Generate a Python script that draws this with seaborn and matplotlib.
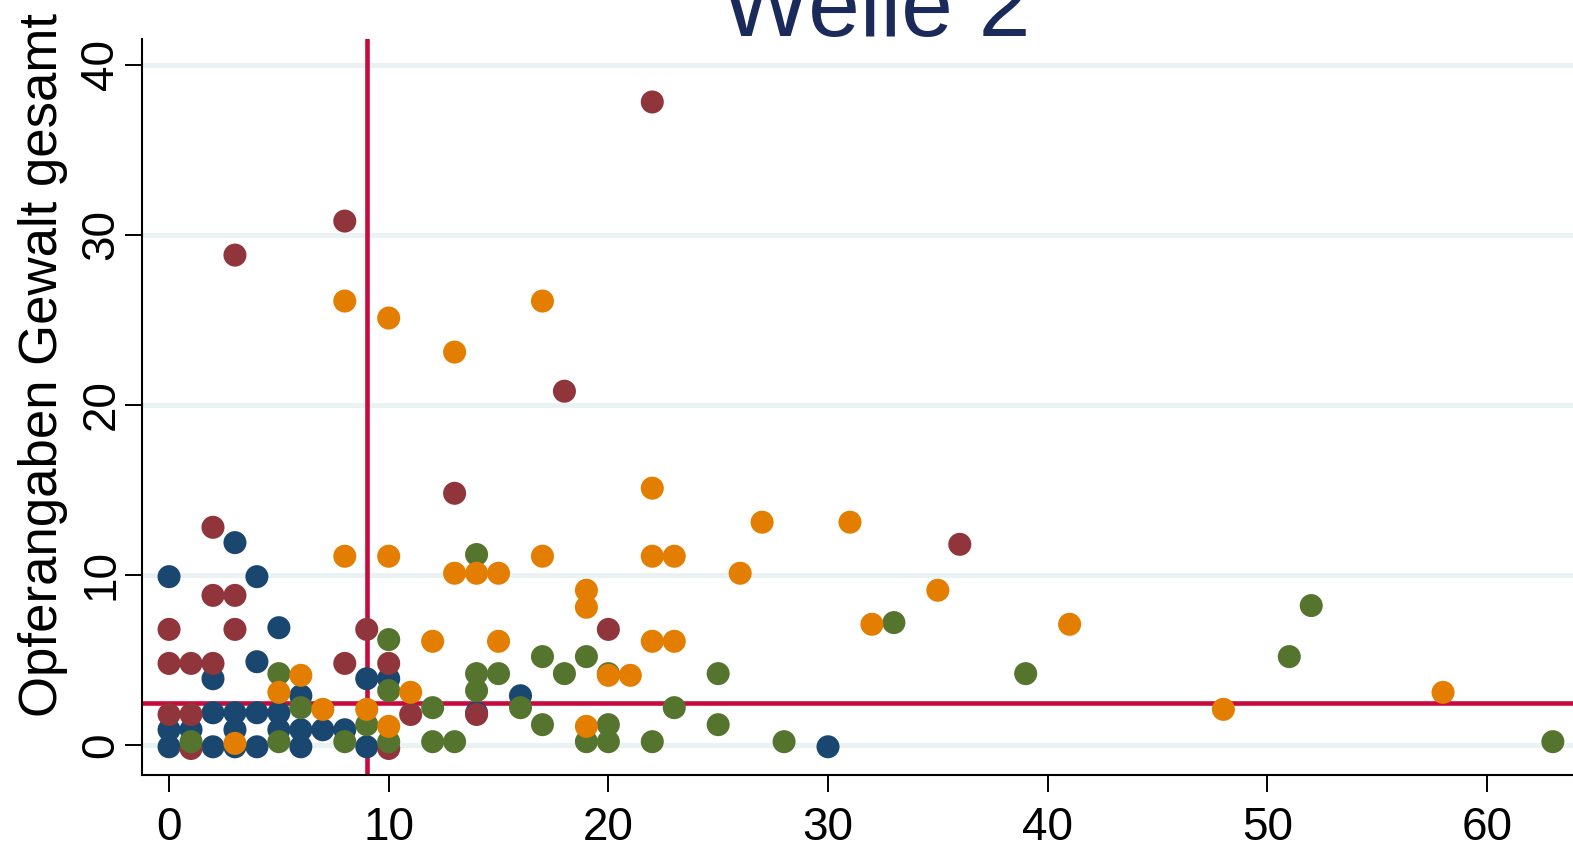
import numpy as np
import pandas as pd
import matplotlib
matplotlib.use('Agg')
import matplotlib.pyplot as plt
import seaborn as sns

# values (x = integer score, y = victim reports)
navy_x = [0, 0, 0, 1, 2, 2, 2, 3, 3, 3, 3, 4, 4, 4, 4, 5, 5, 5,
          6, 6, 6, 7, 8, 9, 9, 10, 14, 16, 30]
navy_y = [9.9, 0.9, -0.1, 0.9, 3.9, 1.9, -0.1, 11.9, 1.9, 0.9, -0.1,
          9.9, 4.9, 1.9, -0.1, 6.9, 1.9, 0.9, 2.9, 0.9, -0.1, 0.9, 0.9,
          3.9, -0.1, 3.9, 1.9, 2.9, -0.1]

maroon_x = [0, 0, 0, 1, 1, 1, 2, 2, 2, 3, 3, 3, 8, 8, 9, 10, 10, 11,
            13, 14, 18, 20, 22, 36]
maroon_y = [6.8, 4.8, 1.8, 4.8, 1.8, -0.2, 12.8, 8.8, 4.8, 28.8, 8.8,
            6.8, 30.8, 4.8, 6.8, 4.8, -0.2, 1.8, 14.8, 1.8, 20.8, 6.8,
            37.8, 11.8]

green_x = [1, 5, 5, 6, 8, 9, 10, 10, 10, 12, 12, 13, 14, 14, 14, 15, 16,
           17, 17, 18, 19, 19, 20, 20, 20, 22, 23, 25, 25, 28, 33, 39,
           51, 52, 63]
green_y = [0.2, 4.2, 0.2, 2.2, 0.2, 1.2, 6.2, 3.2, 0.2, 2.2, 0.2, 0.2,
           11.2, 4.2, 3.2, 4.2, 2.2, 5.2, 1.2, 4.2, 5.2, 0.2, 4.2, 1.2,
           0.2, 0.2, 2.2, 4.2, 1.2, 0.2, 7.2, 4.2, 5.2, 8.2, 0.2]

orange_x = [3, 5, 6, 7, 8, 8, 9, 10, 10, 10, 11, 12, 13, 13, 14, 15, 15,
            17, 17, 19, 19, 19, 20, 21, 22, 22, 22, 23, 23, 26, 27, 31,
            32, 35, 41, 48, 58]
orange_y = [0.1, 3.1, 4.1, 2.1, 26.1, 11.1, 2.1, 25.1, 11.1, 1.1, 3.1,
            6.1, 23.1, 10.1, 10.1, 10.1, 6.1, 26.1, 11.1, 9.1, 8.1, 1.1,
            4.1, 4.1, 15.1, 11.1, 6.1, 11.1, 6.1, 10.1, 13.1, 13.1, 7.1,
            9.1, 7.1, 2.1, 3.1]

groups = ['navy', 'maroon', 'green', 'orange']
colors = ['#1a476f', '#90353b', '#55752f', '#e37e00']

vline_x = 9
hline_y = 2.45
y_ticks = [0, 10, 20, 30, 40]
x_ticks = [0, 10, 20, 30, 40, 50, 60]

df = pd.concat([
    pd.DataFrame({'x': navy_x, 'y': navy_y, 'g': 'navy'}),
    pd.DataFrame({'x': maroon_x, 'y': maroon_y, 'g': 'maroon'}),
    pd.DataFrame({'x': green_x, 'y': green_y, 'g': 'green'}),
    pd.DataFrame({'x': orange_x, 'y': orange_y, 'g': 'orange'}),
], ignore_index=True)

sns.set_style('white')
plt.rcParams['font.family'] = ['Liberation Sans', 'DejaVu Sans']

fig = plt.figure(figsize=(15.73, 8.56), dpi=100)
ax = fig.add_axes([0.0903, 0.0946, 0.9332, 0.8598])

for yt in y_ticks:
    ax.axhline(yt, color='#eaf2f3', lw=3.6, zorder=0)

sns.scatterplot(data=df, x='x', y='y', hue='g', hue_order=groups,
                palette=colors, s=275, linewidth=0, legend=False,
                ax=ax, zorder=3)

ax.axvline(vline_x, color='#c80a3c', lw=3.3, zorder=2)
ax.axhline(hline_y, color='#c80a3c', lw=3.3, zorder=2)

ax.set_xlim(-1.23, 65.6)
ax.set_ylim(-1.76, 41.5)
ax.set_xticks(x_ticks)
ax.set_yticks(y_ticks)
ax.set_xlabel('')

for side in ['top', 'right']:
    ax.spines[side].set_visible(False)
for side in ['left', 'bottom']:
    ax.spines[side].set_color('black')
    ax.spines[side].set_linewidth(1.5)

ax.tick_params(axis='both', which='major', direction='out', length=12,
               width=1.4, color='black', labelcolor='black', labelsize=33,
               left=True, bottom=True)
ax.tick_params(axis='x', pad=10)
ax.tick_params(axis='y', pad=1.5, labelrotation=90)
plt.setp(ax.get_yticklabels(), va='center')

ax.set_ylabel('Opferangaben Gewalt gesamt', fontsize=38, va='baseline',
              color='black')
ax.yaxis.set_label_coords(-0.058, 0.557)

fig.text(0.557, 1 - 36 / 856, 'Welle 2', ha='center', va='baseline',
         fontsize=67, color='#1a2a5a')

fig.savefig('out.png', dpi=100)
